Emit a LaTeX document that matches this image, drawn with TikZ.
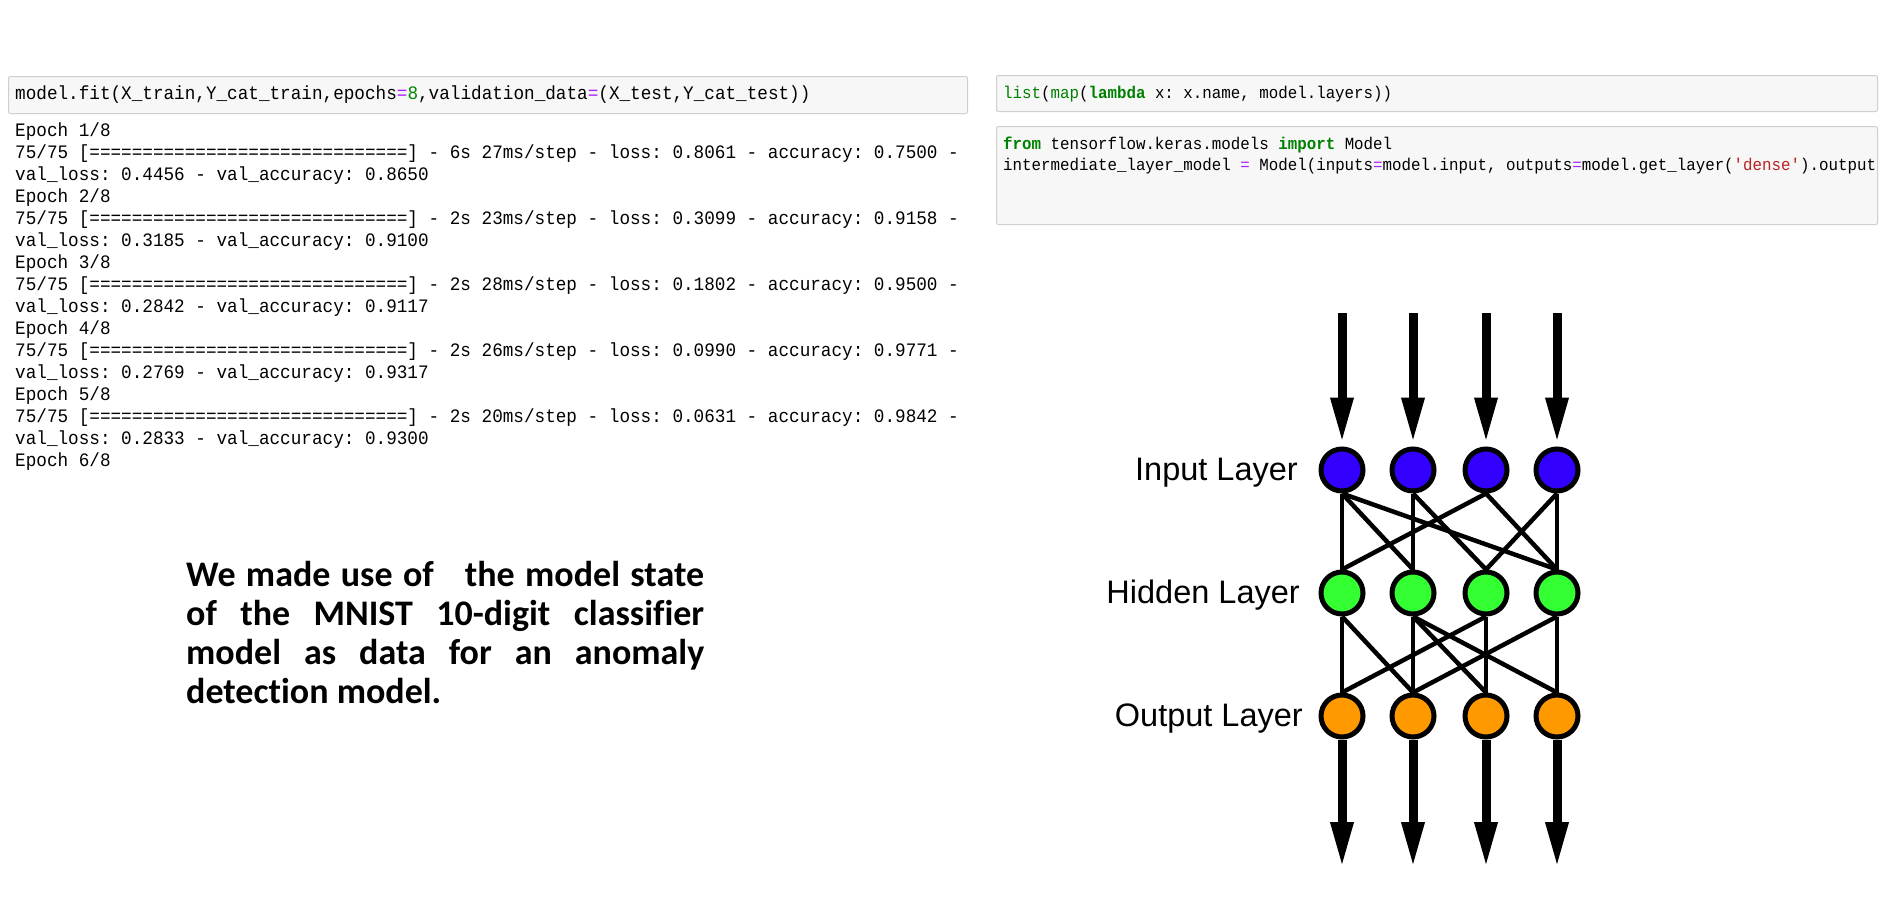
\documentclass[tikz,border=0pt]{standalone}
\usepackage{fontspec}
\usetikzlibrary{arrows.meta}
\setmonofont[FakeStretch=0.93]{Liberation Mono}
\newfontfamily\parafont[Ligatures=NoCommon]{Carlito}
\newfontfamily\labelfont{Liberation Sans}
\definecolor{cellbg}{HTML}{F7F7F7}
\definecolor{cellborder}{HTML}{CFCFCF}
\definecolor{kwgreen}{HTML}{008000}
\definecolor{oppurple}{HTML}{AA22FF}
\definecolor{numgreen}{HTML}{008800}
\definecolor{strred}{HTML}{BA2121}
\definecolor{inblue}{HTML}{3300FF}
\definecolor{hidgreen}{HTML}{33FF33}
\definecolor{outorange}{HTML}{FF9900}
\newcommand\cdkw[1]{\textcolor{kwgreen}{\bfseries #1}}
\newcommand\cdbi[1]{\textcolor{kwgreen}{#1}}
\newcommand\cdop[1]{\textcolor{oppurple}{#1}}
\newcommand\cdnum[1]{\textcolor{numgreen}{#1}}
\newcommand\cdstr[1]{\textcolor{strred}{#1}}
\tikzset{
  cell/.style={draw=cellborder, fill=cellbg, line width=1pt, rounded corners=2pt, inner sep=0pt, anchor=north west},
  logline/.style={anchor=base west, inner sep=0pt, font=\ttfamily\fontsize{19}{22}\selectfont},
  codeline/.style={anchor=base west, inner sep=0pt, font=\ttfamily\fontsize{17}{21}\selectfont},
  neuron/.style={circle, draw=black, line width=5pt, minimum size=42pt, inner sep=0pt},
  conn/.style={line width=4.5pt, draw=black},
  bigarrow/.style={line width=9pt, draw=black, -{Triangle[length=46pt,width=21pt]}},
  layerlabel/.style={anchor=base east, inner sep=0pt, font=\labelfont\fontsize{32.5}{38}\selectfont},
}
\begin{document}
\begin{tikzpicture}[x=1pt,y=-1pt]
\useasboundingbox (0,0) rectangle (1888,916);
\fill[white] (0,0) rectangle (1888,916);

% left code cell
\node[cell, minimum width=959pt, minimum height=37pt] (cellA) at (8,76) {};
\node[logline] (codeA) at (15,99) {model.fit(X\_train,Y\_cat\_train,epochs\cdop{=}\cdnum{8},validation\_data\cdop{=}(X\_test,Y\_cat\_test))};

% training log
\node[logline] (l1) at (15,136) {Epoch 1/8};
\node[logline] (l2) at (15,158) {75/75 [==============================] - 6s 27ms/step - loss: 0.8061 - accuracy: 0.7500 -};
\node[logline] (l3) at (15,180) {val\_loss: 0.4456 - val\_accuracy: 0.8650};
\node[logline] (l4) at (15,202) {Epoch 2/8};
\node[logline] (l5) at (15,224) {75/75 [==============================] - 2s 23ms/step - loss: 0.3099 - accuracy: 0.9158 -};
\node[logline] (l6) at (15,246) {val\_loss: 0.3185 - val\_accuracy: 0.9100};
\node[logline] (l7) at (15,268) {Epoch 3/8};
\node[logline] (l8) at (15,290) {75/75 [==============================] - 2s 28ms/step - loss: 0.1802 - accuracy: 0.9500 -};
\node[logline] (l9) at (15,312) {val\_loss: 0.2842 - val\_accuracy: 0.9117};
\node[logline] (l10) at (15,334) {Epoch 4/8};
\node[logline] (l11) at (15,356) {75/75 [==============================] - 2s 26ms/step - loss: 0.0990 - accuracy: 0.9771 -};
\node[logline] (l12) at (15,378) {val\_loss: 0.2769 - val\_accuracy: 0.9317};
\node[logline] (l13) at (15,400) {Epoch 5/8};
\node[logline] (l14) at (15,422) {75/75 [==============================] - 2s 20ms/step - loss: 0.0631 - accuracy: 0.9842 -};
\node[logline] (l15) at (15,444) {val\_loss: 0.2833 - val\_accuracy: 0.9300};
\node[logline] (l16) at (15,466) {Epoch 6/8};

% right code cells
\node[cell, minimum width=881pt, minimum height=36pt] (cellB) at (996,75) {};
\node[codeline] (codeB) at (1003,98) {\cdbi{list}(\cdbi{map}(\cdkw{lambda} x: x.name, model.layers))};
\node[cell, minimum width=881pt, minimum height=98pt] (cellC) at (996,126) {};
\node[codeline] (codeC1) at (1003,149) {\cdkw{from} tensorflow.keras.models \cdkw{import} Model};
\node[codeline] (codeC2) at (1003,170) {intermediate\_layer\_model \cdop{=} Model(inputs\cdop{=}model.input, outputs\cdop{=}model.get\_layer(\cdstr{'dense'}).output};

% paragraph
\node[anchor=north west, inner sep=0pt, text width=518pt, align=justify,
      font=\parafont\bfseries\fontsize{36}{39}\selectfont] (para) at (186,561)
  {We made use of\ \ \ the model state\linebreak of the MNIST 10-digit classifier\linebreak model as data for an anomaly\linebreak detection model.};

% network
\foreach \i/\x in {1/1342,2/1413,3/1486,4/1557} {
  \node[neuron, fill=inblue] (I\i) at (\x,470) {};
  \node[neuron, fill=hidgreen] (H\i) at (\x,593) {};
  \node[neuron, fill=outorange] (O\i) at (\x,716) {};
  \coordinate (T\i) at (\x,313);
  \coordinate (B\i) at (\x,868);
}
\node[layerlabel] (LI) at (1298,480) {Input Layer};
\node[layerlabel] (LH) at (1300,603) {Hidden Layer};
\node[layerlabel] (LO) at (1303,726) {Output Layer};

\foreach \i in {1,...,4} {
  \draw[bigarrow, shorten >=3pt] (T\i) -- (I\i.north);
  \draw[bigarrow] (O\i.south) -- (B\i);
}
% input -> hidden
\draw[conn] (I1.south) -- (H1.north);
\draw[conn] (I1.south) -- (H2.north);
\draw[conn] (I1.south) -- (H4.north);
\draw[conn] (I2.south) -- (H2.north);
\draw[conn] (I2.south) -- (H3.north);
\draw[conn] (I3.south) -- (H1.north);
\draw[conn] (I3.south) -- (H4.north);
\draw[conn] (I4.south) -- (H3.north);
\draw[conn] (I4.south) -- (H4.north);
% hidden -> output
\draw[conn] (H1.south) -- (O1.north);
\draw[conn] (H1.south) -- (O2.north);
\draw[conn] (H2.south) -- (O2.north);
\draw[conn] (H2.south) -- (O3.north);
\draw[conn] (H2.south) -- (O4.north);
\draw[conn] (H3.south) -- (O1.north);
\draw[conn] (H3.south) -- (O3.north);
\draw[conn] (H4.south) -- (O2.north);
\draw[conn] (H4.south) -- (O4.north);
\end{tikzpicture}
\end{document}
